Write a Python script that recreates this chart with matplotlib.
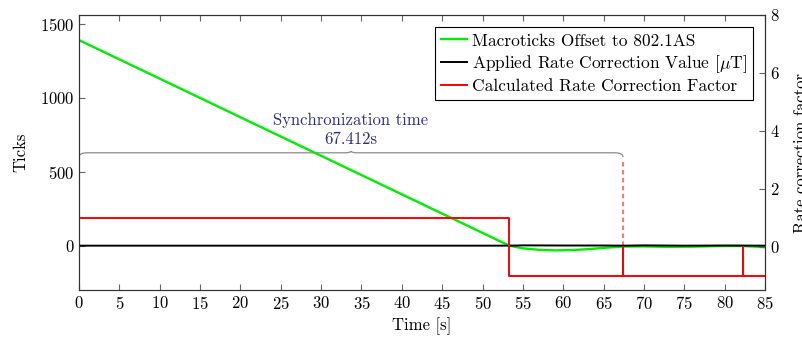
import numpy as np
import matplotlib
matplotlib.use('Agg')
import matplotlib.pyplot as plt
from matplotlib.path import Path
from matplotlib.patches import PathPatch

plt.rcParams['font.family'] = ['cmr10', 'DejaVu Serif']
plt.rcParams['mathtext.fontset'] = 'cm'
plt.rcParams['axes.formatter.use_mathtext'] = True
plt.rcParams['font.size'] = 12

# Macroticks offset (left axis, ticks)
offset_t = [0, 53.3, 55, 57, 59, 61, 63, 65, 67.4, 70, 73, 76, 79, 82, 85]
offset_v = [1390, 0, -18, -28, -32, -30, -24, -15, -6, -5, -8, -7, -3, -2, -10]

# Applied rate correction value (left axis)
applied_t = [0, 10, 20, 30, 40, 53.3, 55, 60, 65, 67.4, 70, 75, 80, 85]
applied_v = [0, 0, 0, 0, 0, 0, 2, 1, 1, 0, 2, 0, 1, 0]

# Calculated rate correction factor (right axis)
factor_t = [0, 53.3, 53.3, 67.412, 67.412, 67.412, 82.3, 82.3, 82.3, 85]
factor_v = [1, 1, -1, -1, 0, -1, -1, 0, -1, -1]

sync_time = 67.412
marker_top = 585

fig = plt.figure(figsize=(8.03, 3.40), dpi=100)
ax = fig.add_axes([0.0984, 0.147, 0.8543, 0.8089])
ax2 = ax.twinx()

l1, = ax.plot(offset_t, offset_v, color='#00ee00', lw=1.7, label='Macroticks Offset to 802.1AS')
l2, = ax.plot(applied_t, applied_v, color='black', lw=1.4, label='Applied Rate Correction Value [$\\mu$T]')
l3, = ax2.plot(factor_t, factor_v, color='red', lw=1.4, label='Calculated Rate Correction Factor')

# dashed markers at start and end of sync
for xm in (0, sync_time):
    ax.plot([xm, xm], [0, marker_top], color='#ff5050', lw=1.1, ls=(0, (3, 2.2)), zorder=1)

# brace
yb, h, tip, r = 598, 30, 24, 1.0
mid = sync_time / 2
verts = [(0, yb), (0, yb + h), (r, yb + h),
         (mid - 0.8, yb + h), (mid, yb + h), (mid, yb + h + tip / 2),
         (mid, yb + h), (mid + 0.8, yb + h),
         (sync_time - r, yb + h), (sync_time, yb + h), (sync_time, yb)]
codes = [Path.MOVETO, Path.CURVE3, Path.CURVE3,
         Path.LINETO, Path.CURVE3, Path.CURVE3,
         Path.CURVE3, Path.CURVE3,
         Path.LINETO, Path.CURVE3, Path.CURVE3]
ax.add_patch(PathPatch(Path(verts, codes), fill=False, ec='#8c8c8c', lw=0.9))
ax.text(mid, yb + h + 40, 'Synchronization time\n67.412s', ha='center', va='bottom',
        color='#2e2e8f', fontsize=12, linespacing=1.3)

ax.set_xlim(0, 85)
ax.set_ylim(-300, 1560)
ax2.set_ylim(-1.5, 8)
ax.set_xticks(np.arange(0, 86, 5))
ax.set_yticks([0, 500, 1000, 1500])
ax2.set_yticks([0, 2, 4, 6, 8])

ax.tick_params(direction='in', top=True, length=4, color='#666666')
ax2.tick_params(direction='in', length=4, color='#666666')
for s in ax.spines.values():
    s.set_color('#333333')
for s in ax2.spines.values():
    s.set_color('#333333')

ax.set_xlabel('Time [s]', labelpad=4)
ax.set_ylabel('Ticks', labelpad=8)
ax2.set_ylabel('Rate correction factor', labelpad=10)

leg = ax2.legend(handles=[l1, l2, l3], loc='upper right', fancybox=False,
                 edgecolor='black', framealpha=1, handlelength=1.5,
                 handletextpad=0.3, labelspacing=0.25, borderaxespad=0.7,
                 borderpad=0.35, fontsize=12.5)
leg.get_frame().set_linewidth(0.8)

fig.savefig('out.png', dpi=100)
